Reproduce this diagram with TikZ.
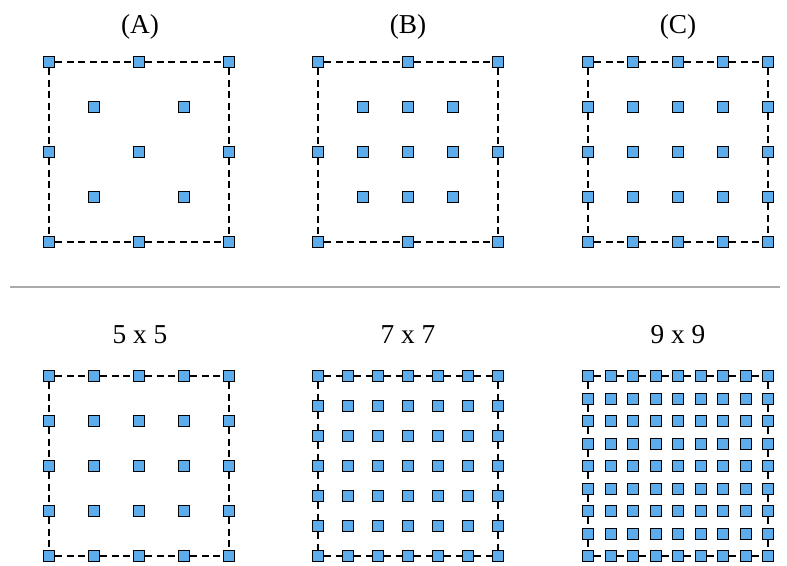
\documentclass[tikz,border=0pt]{standalone}
\usepackage{fontspec}
\setmainfont{Liberation Serif}
\usepackage{tikz}
\usetikzlibrary{positioning}
\definecolor{PtBlue}{HTML}{5DADEC}
\definecolor{RuleGray}{HTML}{AAAAAA}

\tikzset{
  sqpt/.style={rectangle, draw=black, fill=PtBlue, line width=1pt, minimum size=8.6pt, inner sep=0pt},
  edgeline/.style={draw=black, line width=0.9pt, dash pattern=on 5.2pt off 3.4pt},
  lbl/.style={font=\fontsize{20.5}{24}\selectfont, anchor=base}
}

\begin{document}
\begin{tikzpicture}[x=0.75pt, y=-0.75pt]
  \useasboundingbox (0,0) rectangle (787,565);
  % panels A and B: border points at half steps
  \foreach \nm/\xo in {a/49, b/318} {
    \foreach \i/\j in {1/1,3/1,5/1,1/3,5/3,1/5,3/5,5/5}
      \node[sqpt] (\nm-\i-\j) at ({\xo+(\i-1)*45},{62+(\j-1)*45}) {};
    \foreach \p/\q in {1-1/3-1, 3-1/5-1, 1-5/3-5, 3-5/5-5, 1-1/1-3, 1-3/1-5, 5-1/5-3, 5-3/5-5}
      \draw[edgeline] (\nm-\p) -- (\nm-\q);
  }
  \foreach \i/\j in {2/2,4/2,3/3,2/4,4/4}
    \node[sqpt] (a-\i-\j) at ({49+(\i-1)*45},{62+(\j-1)*45}) {};
  \foreach \i in {2,3,4} {
    \foreach \j in {2,3,4}
      \node[sqpt] (b-\i-\j) at ({318+(\i-1)*45},{62+(\j-1)*45}) {};
  }
  % full grids
  \foreach \nm/\xo/\yo/\n in {c/588/62/5, d/49/376/5, e/318/376/7, f/588/376/9} {
    \pgfmathsetmacro\gs{180/(\n-1)}
    \foreach \i in {1,...,\n} {
      \foreach \j in {1,...,\n}
        \node[sqpt] (\nm-\i-\j) at ({round(\xo+(\i-1)*\gs)},{round(\yo+(\j-1)*\gs)}) {};
    }
    \foreach \i [remember=\i as \p (initially 1)] in {2,...,\n} {
      \draw[edgeline] (\nm-\p-1) -- (\nm-\i-1);
      \draw[edgeline] (\nm-\p-\n) -- (\nm-\i-\n);
      \draw[edgeline] (\nm-1-\p) -- (\nm-1-\i);
      \draw[edgeline] (\nm-\n-\p) -- (\nm-\n-\i);
    }
  }
  % labels
  \node[lbl] (labA) at (140,33) {(A)};
  \node[lbl] (labB) at (408,33) {(B)};
  \node[lbl] (labC) at (678,33) {(C)};
  \node[lbl] (lab5) at (140,343) {5 x 5};
  \node[lbl] (lab7) at (408,343) {7 x 7};
  \node[lbl] (lab9) at (678,343) {9 x 9};
  % separator
  \coordinate (sepL) at (10,287);
  \coordinate (sepR) at (780,287);
  \draw[RuleGray, line width=1.3pt] (sepL) -- (sepR);
\end{tikzpicture}
\end{document}
